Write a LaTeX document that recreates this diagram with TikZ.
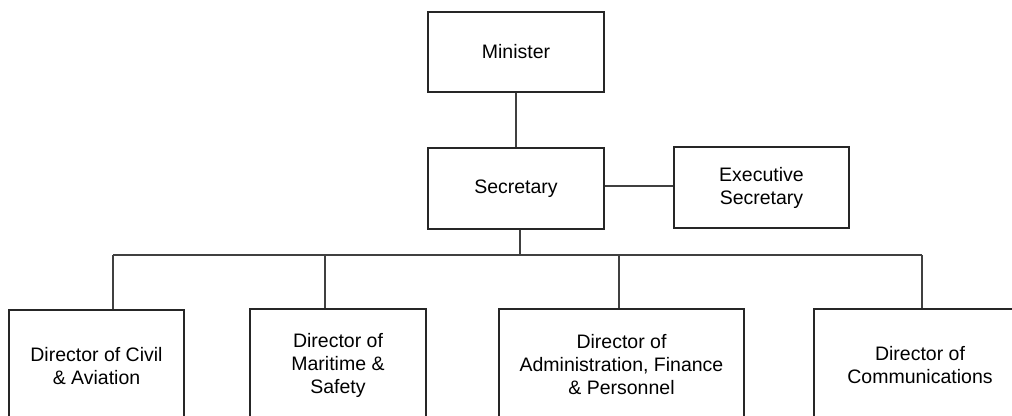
\documentclass[tikz,border=0pt]{standalone}
\usepackage{fontspec}
\setmainfont{Liberation Sans}
\begin{document}
\begin{tikzpicture}[x=1pt,y=-1pt,
  orgbox/.style={draw=black!85, line width=1.2pt, inner sep=0pt, align=center,
    font=\fontsize{19.5}{23}\selectfont, fill=white},
  link/.style={draw=black!75, line width=1.1pt}]
  \useasboundingbox (0,0) rectangle (1012,415);
  \clip (0,0) rectangle (1012,415);

  % top of the hierarchy
  \node[orgbox, minimum width=176pt, minimum height=80pt] (minister) at (516,52) {Minister};
  \node[orgbox, minimum width=176pt, minimum height=81pt] (secretary) at (516,188.5) {Secretary};
  \node[orgbox, minimum width=175pt, minimum height=81pt] (execsec) at (761.5,187.5) {Executive\\Secretary};

  % directors
  \node[orgbox, minimum width=175pt, minimum height=112pt] (dcivil) at (96.5,366) {Director of Civil\\\& Aviation};
  \node[orgbox, minimum width=176pt, minimum height=112pt] (dmaritime) at (338,365) {Director of\\Maritime \&\\Safety};
  \node[orgbox, minimum width=245pt, minimum height=112pt] (dadmin) at (621.5,365) {Director of\\Administration, Finance\\\& Personnel};
  \node[orgbox, minimum width=212pt, minimum height=112pt] (dcomms) at (920,365) {Director of\\Communications};

  % junctions on the distribution bar
  \coordinate (bar) at (520,255);
  \coordinate (j1) at (113,255);
  \coordinate (j2) at (325,255);
  \coordinate (j3) at (619,255);
  \coordinate (j4) at (922,255);

  \draw[link] (minister.south) -- (secretary.north);
  \draw[link] (secretary.east |- 0,186) -- (execsec.west |- 0,186);
  \draw[link] (bar |- secretary.south) -- (bar);
  \draw[link] (j1) -- (j4);
  \draw[link] (j1) -- (j1 |- dcivil.north);
  \draw[link] (j2) -- (j2 |- dmaritime.north);
  \draw[link] (j3) -- (j3 |- dadmin.north);
  \draw[link] (j4) -- (j4 |- dcomms.north);
\end{tikzpicture}
\end{document}
